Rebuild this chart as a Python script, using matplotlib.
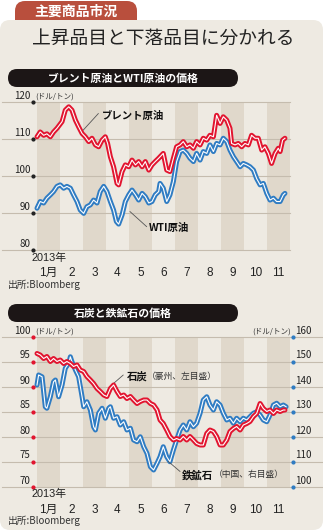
import matplotlib
matplotlib.use('Agg')
import matplotlib.pyplot as plt
from matplotlib.patches import FancyBboxPatch
from matplotlib import font_manager

plt.rcParams['font.family'] = ['Noto Sans CJK JP', 'DejaVu Sans']
names = {f.name for f in font_manager.fontManager.ttflist}
narrow = 'Liberation Sans Narrow' if 'Liberation Sans Narrow' in names else 'Liberation Sans'
num_font = [narrow, 'Noto Sans CJK JP']

# x positions are months since 2013-01-01
months = ['1月', '2', '3', '4', '5', '6', '7', '8', '9', '10', '11']

brent_x = [0, .14, .29, .43, .58, .72, .87, 1.09, 1.23, 1.38, 1.52, 1.67, 1.81, 1.96, 2.1, 2.25, 2.39, 2.54, 2.68,
           2.83, 2.97, 3.07, 3.19, 3.33, 3.48, 3.55, 3.7, 3.84, 3.99, 4.13, 4.28, 4.42, 4.57, 4.71, 4.86, 5.0, 5.14,
           5.29, 5.35, 5.49, 5.64, 5.78, 5.93, 6.07, 6.22, 6.36, 6.51, 6.65, 6.8, 6.94, 7.09, 7.23, 7.38, 7.52, 7.67,
           7.81, 7.96, 8.1, 8.25, 8.39, 8.46, 8.61, 8.75, 8.9, 9.04, 9.19, 9.33, 9.48, 9.62, 9.77, 9.91, 10.06, 10.2,
           10.35, 10.49, 10.57, 10.68, 10.78]
brent = [110.6, 111.9, 111.0, 111.4, 110.6, 111.9, 112.9, 114.7, 117.8, 118.7, 117.8, 115.1, 113.3, 111.5, 110.6,
         109.3, 110.2, 108.4, 107.9, 109.7, 110.6, 108.8, 105.2, 102.5, 98.0, 97.6, 101.2, 103.0, 102.5, 104.3, 103.0,
         103.9, 102.5, 103.9, 101.6, 103.0, 103.9, 104.8, 105.2, 106.1, 101.6, 101.2, 104.8, 107.9, 108.4, 109.3,
         107.9, 108.4, 107.5, 109.3, 108.4, 110.2, 109.7, 111.0, 110.6, 116.4, 114.2, 116.0, 115.1, 112.9, 108.8,
         108.4, 108.8, 107.9, 108.8, 108.4, 111.0, 110.2, 110.2, 107.0, 107.9, 106.1, 103.4, 106.1, 107.5, 106.6,
         109.7, 110.2]

wti_x = [0, .14, .29, .43, .58, .72, .87, 1.01, 1.16, 1.3, 1.45, 1.59, 1.74, 1.88, 2.03, 2.17, 2.32, 2.46, 2.61,
         2.75, 2.9, 3.04, 3.19, 3.33, 3.45, 3.55, 3.7, 3.84, 3.99, 4.13, 4.28, 4.42, 4.57, 4.71, 4.86, 5.0, 5.14, 5.29,
         5.35, 5.49, 5.64, 5.78, 5.93, 6.07, 6.22, 6.36, 6.51, 6.65, 6.8, 6.94, 7.09, 7.23, 7.38, 7.52, 7.67, 7.81,
         7.96, 8.1, 8.25, 8.39, 8.54, 8.68, 8.83, 8.97, 9.12, 9.26, 9.41, 9.55, 9.7, 9.84, 9.99, 10.13, 10.28, 10.42,
         10.57, 10.71, 10.78]
wti = [91.3, 93.1, 92.7, 94.0, 94.9, 95.8, 97.2, 97.6, 96.7, 97.2, 96.7, 94.9, 93.1, 90.8, 89.9, 91.7, 92.2, 93.5,
       92.7, 95.8, 97.2, 95.8, 93.1, 90.8, 87.7, 87.0, 89.5, 93.1, 94.9, 96.2, 94.9, 93.5, 95.3, 94.4, 92.7, 93.1,
       94.9, 95.8, 98.0, 96.7, 93.1, 94.9, 98.5, 103.9, 106.6, 107.0, 106.1, 104.8, 103.9, 106.1, 104.3, 106.6,
       106.1, 108.4, 106.6, 108.8, 108.4, 110.2, 109.3, 107.0, 105.2, 103.9, 102.5, 103.4, 103.0, 102.5, 101.6, 99.3,
       97.6, 98.0, 95.3, 93.5, 94.0, 93.1, 93.1, 94.9, 95.3]

coal_x = [0, .14, .29, .43, .58, .72, .87, 1.01, 1.16, 1.3, 1.45, 1.59, 1.74, 1.88, 2.03, 2.17, 2.32, 2.46, 2.61,
          2.75, 2.9, 3.04, 3.19, 3.33, 3.48, 3.62, 3.77, 3.91, 4.06, 4.2, 4.35, 4.49, 4.64, 4.78, 4.93, 5.07, 5.22,
          5.35, 5.49, 5.64, 5.78, 5.93, 6.07, 6.22, 6.36, 6.51, 6.65, 6.8, 6.94, 7.09, 7.23, 7.38, 7.52, 7.67, 7.81,
          7.96, 8.1, 8.25, 8.39, 8.54, 8.68, 8.83, 8.97, 9.12, 9.26, 9.41, 9.55, 9.7, 9.84, 9.99, 10.13, 10.28, 10.42,
          10.57, 10.71, 10.78]
coal = [96.7, 96.4, 95.7, 96.1, 95.1, 95.7, 95.1, 95.4, 94.7, 95.1, 94.7, 94.1, 94.4, 93.4, 93.1, 92.1, 91.4, 90.7,
        89.7, 89.1, 88.4, 88.1, 89.7, 90.4, 89.1, 88.1, 88.4, 87.7, 88.1, 87.4, 86.7, 87.1, 87.4, 87.4, 86.7, 86.4,
        85.4, 83.4, 82.7, 81.4, 80.1, 79.4, 79.7, 79.4, 80.1, 79.4, 80.1, 79.4, 78.7, 78.4, 78.4, 80.7, 81.4, 81.1,
        80.1, 78.4, 78.4, 79.4, 81.1, 81.7, 82.1, 81.4, 82.4, 82.7, 83.1, 84.1, 84.7, 86.7, 85.7, 85.1, 85.4, 84.7,
        85.4, 85.1, 85.4, 85.4]

iron_x = [0, .07, .22, .36, .43, .58, .72, .8, .94, 1.09, 1.23, 1.38, 1.45, 1.52, 1.67, 1.81, 1.96, 2.03, 2.17,
          2.32, 2.46, 2.54, 2.68, 2.83, 2.97, 3.12, 3.19, 3.33, 3.48, 3.62, 3.77, 3.91, 4.06, 4.2, 4.35, 4.49, 4.64,
          4.78, 4.93, 5.07, 5.22, 5.35, 5.49, 5.64, 5.78, 5.93, 6.07, 6.22, 6.36, 6.51, 6.65, 6.8, 6.94, 7.09, 7.23,
          7.38, 7.52, 7.67, 7.81, 7.96, 8.1, 8.25, 8.39, 8.54, 8.68, 8.83, 8.97, 9.12, 9.26, 9.41, 9.55, 9.7, 9.84,
          9.99, 10.13, 10.28, 10.42, 10.57, 10.71, 10.83]
iron = [140.8, 144.8, 144.1, 132.1, 131.5, 136.1, 142.1, 142.8, 136.1, 140.8, 147.5, 149.5, 152.1, 150.1, 146.8,
        144.1, 136.1, 132.1, 134.1, 130.8, 124.1, 122.8, 129.5, 131.5, 127.5, 131.5, 132.1, 127.5, 128.1, 124.8,
        126.1, 122.8, 123.5, 118.8, 118.1, 120.1, 116.1, 113.5, 108.1, 106.8, 109.5, 112.1, 116.1, 112.1, 110.1,
        114.8, 118.8, 122.8, 124.8, 122.8, 126.1, 124.1, 125.5, 129.5, 134.8, 136.1, 132.8, 130.8, 134.1, 132.8,
        129.5, 126.8, 127.5, 125.5, 127.5, 126.1, 127.5, 126.8, 128.1, 129.5, 130.1, 128.8, 126.8, 126.1, 128.8,
        132.8, 133.5, 132.1, 132.8, 132.1]

oil_ticks = [80, 90, 100, 110, 120]
coal_ticks = [70, 75, 80, 85, 90, 95, 100]
iron_ticks = [100, 110, 120, 130, 140, 150, 160]

RED = '#e2142f'
BLUE = '#2f7cc3'
BG = '#eeeae2'
SHADE = '#e0d8cb'
GRID = '#c5bcae'

W, H = 323, 532
fig = plt.figure(figsize=(W / 100, H / 100), dpi=100)
fig.patch.set_facecolor('white')


def rbox(x0, y0, x1, y1, color, r, z):
    p = FancyBboxPatch((x0 / 100, (H - y1) / 100), (x1 - x0) / 100, (y1 - y0) / 100,
                       boxstyle=f'round,pad=0,rounding_size={r}', transform=fig.dpi_scale_trans,
                       fc=color, ec='none', zorder=z)
    fig.add_artist(p)


def ftext(x, y, s, **kw):
    fig.text(x / W, 1 - y / H, s, **kw)


# frame, tab, title, headers
rbox(15, 1, 137, 34, '#b94f3d', 0.1, -3)
rbox(0, 20, 323, 530, BG, 0.1, -2)
ftext(76, 11.5, '主要商品市況', color='white', fontsize=10, fontweight='bold', ha='center', va='center')
ftext(163, 38, '上昇品目と下落品目に分かれる', color='#222222', fontsize=13.5, ha='center', va='center')
rbox(8, 69, 238, 87, '#1c1616', 0.09, -1)
ftext(123, 78, 'ブレント原油とWTI原油の価格', color='white', fontsize=7.8, fontweight='bold', ha='center', va='center')
rbox(8, 304, 238, 322, '#1c1616', 0.09, -1)
ftext(123, 313, '石炭と鉄鉱石の価格', color='white', fontsize=7.8, fontweight='bold', ha='center', va='center')
ftext(8, 285, '出所:Bloomberg', color='#333333', fontsize=7, va='center')
ftext(8, 521, '出所:Bloomberg', color='#333333', fontsize=7, va='center')

X0 = -4 / 23


def dbl(ax, x, y, c, z):
    ax.plot(x, y, color=c, lw=3.6, solid_joinstyle='round', solid_capstyle='round', zorder=z, clip_on=False)
    ax.plot(x, y, color='white', lw=0.8, zorder=z + 0.1, clip_on=False)


def base(ax):
    ax.set_facecolor('none')
    ax.set_xlim(X0, 11)
    for s in ax.spines.values():
        s.set_visible(False)
    ax.set_yticks([])


def month_axis(ax, top_frac):
    ax.set_xticks([m + 0.5 for m in range(11)])
    ax.set_xticklabels(months, fontfamily=num_font, fontsize=8.5, color='#222222')
    ax.tick_params(axis='x', length=0, pad=12.5)
    ax.text(-0.22, top_frac, '2013年', transform=ax.get_xaxis_transform(), ha='left', va='top',
            fontfamily=num_font, fontsize=7.8, color='#222222')


# chart 1
ax1 = fig.add_axes([33 / W, 1 - 250 / H, 257 / W, 148 / H])
base(ax1)
ax1.set_ylim(80, 120)
for m in range(0, 11, 2):
    ax1.axvspan(m, m + 1, color=SHADE, lw=0, zorder=0)
for v in oil_ticks:
    ax1.axhline(v, xmin=-31 / 257, xmax=1, color=GRID, lw=0.8, clip_on=False, zorder=1)
    ax1.text(-0.283, v + 0.3, str(v), ha='right', va='bottom', fontsize=7, color='#222222')
ax1.scatter([X0] * len(oil_ticks), oil_ticks, s=4, color='#222222', clip_on=False, zorder=3)
ax1.text(-0.09, 120.4, '(ドル/トン)', fontsize=5.5, ha='left', va='bottom', color='#333333')
dbl(ax1, wti_x, wti, BLUE, 4)
dbl(ax1, brent_x, brent, RED, 5)
ax1.annotate('', xy=(2.01, 112.4), xytext=(2.67, 116.9),
             arrowprops=dict(arrowstyle='-', color='#555555', lw=0.6, shrinkA=0, shrinkB=0))
ax1.text(2.81, 116.2, 'ブレント原油', fontsize=7.5, fontweight='bold', ha='left', va='center', color='#111111')
ax1.annotate('', xy=(4.04, 90.4), xytext=(4.77, 86.3),
             arrowprops=dict(arrowstyle='-', color='#555555', lw=0.6, shrinkA=0, shrinkB=0))
ax1.text(4.87, 85.9, 'WTI原油', fontsize=7.5, fontweight='bold', ha='left', va='center', color='#111111')
month_axis(ax1, -3 / 148)

# chart 2
ax2 = fig.add_axes([33 / W, 1 - 487 / H, 257 / W, 150 / H])
base(ax2)
ax2.set_ylim(70, 100)
ax2r = ax2.twinx()
base(ax2r)
ax2r.set_ylim(100, 160)
ax2.set_zorder(ax2r.get_zorder() + 1)
for m in range(0, 11, 2):
    ax2r.axvspan(m, m + 1, color=SHADE, lw=0, zorder=0)
for v in iron_ticks:
    ax2r.axhline(v, xmin=-31 / 257, xmax=290 / 257, color=GRID, lw=0.8, clip_on=False, zorder=1)
    ax2r.text(11.24, v + 0.6, str(v), ha='left', va='bottom', fontsize=7, color='#222222')
ax2r.scatter([11.13] * len(iron_ticks), iron_ticks, s=4, color=BLUE, clip_on=False, zorder=3)
for v in coal_ticks:
    ax2.text(-0.283, v + 0.3, str(v), ha='right', va='bottom', fontsize=7, color='#222222')
ax2.scatter([X0] * len(coal_ticks), coal_ticks, s=4, color=RED, clip_on=False, zorder=3)
ax2.text(-0.09, 100.3, '(ドル/トン)', fontsize=5.5, ha='left', va='bottom', color='#333333')
ax2.text(11.04, 100.3, '(ドル/トン)', fontsize=5.5, ha='right', va='bottom', color='#333333')
dbl(ax2r, iron_x, iron, BLUE, 4)
dbl(ax2, coal_x, coal, RED, 5)
ax2.annotate('', xy=(3.25, 90.4), xytext=(3.75, 92.4),
             arrowprops=dict(arrowstyle='-', color='#555555', lw=0.6, shrinkA=0, shrinkB=0))
ax2.text(3.9, 92.1, '石炭', fontsize=7.5, fontweight='bold', ha='left', va='center', color='#111111')
ax2.text(4.78, 92.1, '（豪州、左目盛）', fontsize=6.3, ha='left', va='center', color='#333333')
ax2.annotate('', xy=(5.71, 75.1), xytext=(6.22, 73.1),
             arrowprops=dict(arrowstyle='-', color='#555555', lw=0.6, shrinkA=0, shrinkB=0))
ax2.text(6.3, 72.4, '鉄鉱石', fontsize=7.5, fontweight='bold', ha='left', va='center', color='#111111')
ax2.text(7.7, 72.4, '（中国、右目盛）', fontsize=6.3, ha='left', va='center', color='#333333')
month_axis(ax2, -2 / 150)

fig.savefig('out.png', dpi=100, facecolor='white')
